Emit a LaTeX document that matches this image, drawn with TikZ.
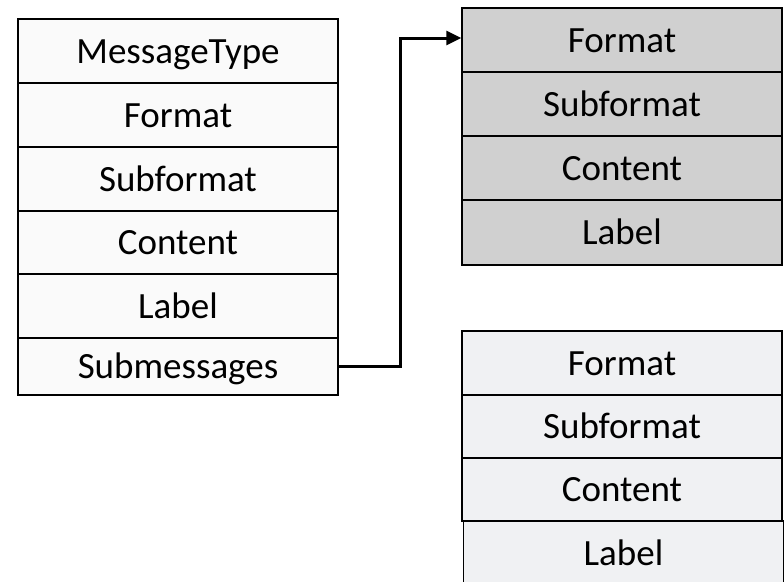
\documentclass[tikz,border=0pt]{standalone}
\usepackage{fontspec}
\setmainfont{Carlito}
\usetikzlibrary{arrows.meta}
\definecolor{lefffill}{RGB}{250,250,250}
\definecolor{grayfill}{RGB}{208,208,208}
\definecolor{lightfill}{RGB}{240,241,243}
\tikzset{
  cell/.style={draw=black, line width=1.4pt, minimum width=320pt, minimum height=64pt, inner sep=0pt, anchor=center, text height=24pt, text depth=0pt, font=\fontsize{37}{44}\selectfont},
  leftcell/.style={cell, fill=lefffill},
  graycell/.style={cell, fill=grayfill},
  lightcell/.style={cell, fill=lightfill},
  conn/.style={line width=3pt, -{Triangle[length=15pt,width=14pt]}}
}
\begin{document}
\begin{tikzpicture}[x=1pt,y=-1pt]
\clip (0,0) rectangle (784,581);
\useasboundingbox (0,0) rectangle (784,581);
% left table
\node[leftcell] (mt) at (178,51) {MessageType};
\node[leftcell] (lf) at (178,115) {Format};
\node[leftcell] (ls) at (178,179) {Subformat};
\node[leftcell, minimum height=63pt] (lc) at (178,242.5) {Content};
\node[leftcell] (ll) at (178,306) {Label};
\node[leftcell, minimum height=57pt] (sub) at (178,366.5) {Submessages};
% gray table
\node[graycell] (gf) at (622,40) {Format};
\node[graycell] (gs) at (622,104) {Subformat};
\node[graycell] (gc) at (622,168) {Content};
\node[graycell, minimum height=65pt] (gl) at (622,232.5) {Label};
% light table
\node[lightcell] (wf) at (622,363) {Format};
\node[lightcell, minimum height=63pt] (ws) at (622,426.5) {Subformat};
\node[lightcell, minimum height=63pt] (wc) at (622,489.5) {Content};
\node[lightcell] (wl) at (623.5,553) {Label};
% connector
\coordinate (bend) at (400,0);
\draw[conn] (sub.east) -- (sub.east -| bend) |- ([yshift=2pt]gf.west);
\end{tikzpicture}
\end{document}
